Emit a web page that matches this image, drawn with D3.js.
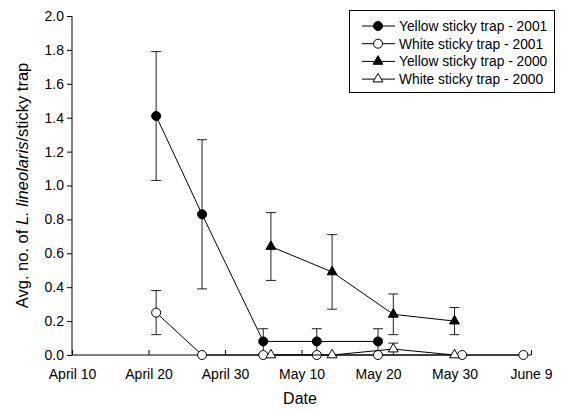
<!DOCTYPE html>
<html>
<head>
<meta charset="utf-8">
<script src="https://cdn.jsdelivr.net/npm/d3@7"></script>
<style>
	body { margin: 0; background: #fff; }
	svg text { font-family: "Liberation Sans", Arial, sans-serif; }
</style>
</head>
<body>
<script>
// dates as "MM-DD", all placed on one year so 2000 and 2001 share the axis
var dates2001Yellow = ["04-21", "04-27", "05-05", "05-12", "05-20"];
var yellow2001 = [1.41, 0.83, 0.08, 0.08, 0.08];
var yellow2001Err = [0.38, 0.44, 0.075, 0.075, 0.075];

var dates2001White = ["04-21", "04-27", "05-05", "05-12", "05-20", "05-31", "06-08"];
var white2001 = [0.25, 0, 0, 0, 0, 0, 0];
var white2001Err = [0.13, 0, 0, 0, 0, 0, 0];

var dates2000 = ["05-06", "05-14", "05-22", "05-30"];
var yellow2000 = [0.64, 0.49, 0.24, 0.20];
var yellow2000Err = [0.20, 0.22, 0.12, 0.08];
var white2000 = [0, 0, 0.035, 0];
var white2000Err = [0, 0, 0.035, 0];

var xTickDates = ["04-10", "04-20", "04-30", "05-10", "05-20", "05-30", "06-09"];
var xTickLabels = ["April 10", "April 20", "April 30", "May 10", "May 20", "May 30", "June 9"];
var yTicks = [0, 0.2, 0.4, 0.6, 0.8, 1.0, 1.2, 1.4, 1.6, 1.8, 2.0];

var legendLabels = ["Yellow sticky trap - 2001", "White sticky trap - 2001", "Yellow sticky trap - 2000", "White sticky trap - 2000"];

var config = {
	width: 561,
	height: 410,
	left: 72,
	right: 531,
	top: 16,
	bottom: 355,
	font: 14,
	legendFont: 13.8
};

var parse = d3.timeParse("%Y-%m-%d");
function toDate(s) { return parse("2001-" + s); }

var svg = d3.select("body")
	.append("svg")
	.attr("width", config.width)
	.attr("height", config.height);

var x = d3.scaleTime()
	.domain([toDate("04-10"), toDate("06-09")])
	.range([config.left, config.right]);

var y = d3.scaleLinear()
	.domain([0, 2])
	.range([config.bottom, config.top]);

// x axis, ticks pointing up into the plot
var xAxis = d3.axisBottom(x)
	.tickValues(xTickDates.map(toDate))
	.tickSize(-5)
	.tickPadding(14)
	.tickFormat(function(d, i) { return xTickLabels[i]; });

var gx = svg.append("g")
	.attr("transform", "translate(0," + config.bottom + ")")
	.call(xAxis);
gx.select(".domain").attr("d", "M" + config.left + ",0H" + config.right);

var yAxis = d3.axisLeft(y)
	.tickValues(yTicks)
	.tickSize(5)
	.tickPadding(3)
	.tickFormat(d3.format(".1f"));

var gy = svg.append("g")
	.attr("transform", "translate(" + config.left + ",0)")
	.call(yAxis);
gy.select(".domain").attr("d", "M0," + config.top + "V" + config.bottom);

svg.selectAll(".tick text")
	.attr("font-size", config.font)
	.attr("font-family", "Liberation Sans, Arial, sans-serif")
	.attr("fill", "#000");
svg.selectAll(".domain, .tick line").attr("stroke", "#000");

// axis titles
svg.append("text")
	.attr("x", 300)
	.attr("y", 404)
	.attr("text-anchor", "middle")
	.attr("font-size", 16)
	.text("Date");

var yl = svg.append("text")
	.attr("transform", "translate(28," + ((config.top + config.bottom) / 2) + ") rotate(-90)")
	.attr("text-anchor", "middle")
	.attr("font-size", 16.5);
yl.append("tspan").text("Avg. no. of ");
yl.append("tspan").attr("font-style", "italic").text("L. lineolaris");
yl.append("tspan").text("/sticky trap");

var series = [
	{ dates: dates2001Yellow, vals: yellow2001, err: yellow2001Err, shape: "circle", fill: "#000" },
	{ dates: dates2001White, vals: white2001, err: white2001Err, shape: "circle", fill: "#fff" },
	{ dates: dates2000, vals: yellow2000, err: yellow2000Err, shape: "triangle", fill: "#000" },
	{ dates: dates2000, vals: white2000, err: white2000Err, shape: "triangle", fill: "#fff" }
];

var line = d3.line()
	.x(function(d) { return x(d.date); })
	.y(function(d) { return y(d.v); });

function marker(g, shape, fill) {
	if (shape == "circle") {
		g.append("circle")
			.attr("r", 4.5)
			.attr("fill", fill)
			.attr("stroke", "#000")
			.attr("stroke-width", 1);
	} else {
		g.append("path")
			.attr("d", d3.symbol().type(d3.symbolTriangle).size(42)())
			.attr("fill", fill)
			.attr("stroke", "#000")
			.attr("stroke-width", 1);
	}
}

series.forEach(function(s) {
	var pts = s.dates.map(function(d, i) {
		return { date: toDate(d), v: s.vals[i], e: s.err[i] };
	});
	var g = svg.append("g");

	// error bars (upper and lower)
	pts.forEach(function(p) {
		if (p.e <= 0) return;
		var cx = x(p.date);
		var lo = Math.max(0, p.v - p.e), hi = p.v + p.e;
		g.append("line")
			.attr("x1", cx).attr("x2", cx)
			.attr("y1", y(lo)).attr("y2", y(hi))
			.attr("stroke", "#222");
		g.append("line")
			.attr("x1", cx - 5).attr("x2", cx + 5)
			.attr("y1", y(hi)).attr("y2", y(hi))
			.attr("stroke", "#222");
		if (p.v - p.e > 0.001) {
			g.append("line")
				.attr("x1", cx - 5).attr("x2", cx + 5)
				.attr("y1", y(lo)).attr("y2", y(lo))
				.attr("stroke", "#222");
		}
	});

	g.append("path")
		.datum(pts)
		.attr("d", line)
		.attr("fill", "none")
		.attr("stroke", "#000")
		.attr("stroke-width", 1);

	pts.forEach(function(p) {
		var m = g.append("g").attr("transform", "translate(" + x(p.date) + "," + y(p.v) + ")");
		marker(m, s.shape, s.fill);
	});
});

// legend
var lg = svg.append("g");
lg.append("rect")
	.attr("x", 349.5).attr("y", 10.5)
	.attr("width", 205).attr("height", 82)
	.attr("fill", "#fff")
	.attr("stroke", "#000");

legendLabels.forEach(function(t, i) {
	var ly = 26 + i * 17.7;
	var s = series[i];
	lg.append("line")
		.attr("x1", 362).attr("x2", 395)
		.attr("y1", ly).attr("y2", ly)
		.attr("stroke", "#000");
	var m = lg.append("g").attr("transform", "translate(378," + ly + ")");
	marker(m, s.shape, s.fill);
	lg.append("text")
		.attr("x", 399)
		.attr("y", ly + 5)
		.attr("font-size", config.legendFont)
		.text(t);
});
</script>
</body>
</html>
